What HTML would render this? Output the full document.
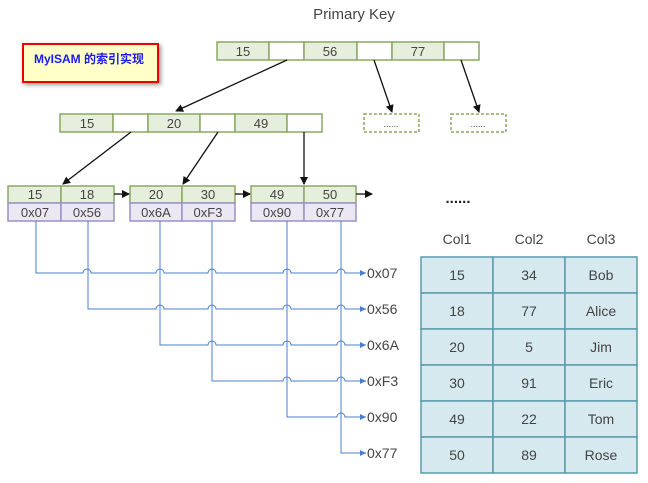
<!DOCTYPE html>
<html><head><meta charset="utf-8"><style>
body{margin:0;background:#fff;}
</style></head><body>
<svg width="648" height="478" xmlns="http://www.w3.org/2000/svg" font-family="Liberation Sans, sans-serif">
<defs>
<marker id="a" markerWidth="8" markerHeight="8" refX="7" refY="4" orient="auto" markerUnits="userSpaceOnUse"><path d="M0,0 L8,4 L0,8 z" fill="#111"/></marker>
<marker id="b" markerWidth="6" markerHeight="6" refX="6" refY="3" orient="auto" markerUnits="userSpaceOnUse"><path d="M0,0 L6,3 L0,6 z" fill="#4a7fd0"/></marker>
</defs>
<text x="354" y="19" font-size="15" fill="#444" text-anchor="middle">Primary Key</text>
<rect x="23" y="44" width="135" height="38" fill="#ffffc8" stroke="#e00" stroke-width="2" style="filter:drop-shadow(2px 2px 2px #999)"/>
<text x="34" y="63" font-size="12" font-weight="bold" fill="#1a1aee" font-family="Liberation Sans, Noto Sans CJK SC, sans-serif">MyISAM 的索引实现</text>
<g stroke="#8aa860" stroke-width="1.5">
<rect x="217" y="42" width="52" height="18" fill="#e6eedc"/><rect x="269" y="42" width="35" height="18" fill="#fff"/>
<rect x="304" y="42" width="53" height="18" fill="#e6eedc"/><rect x="357" y="42" width="35" height="18" fill="#fff"/>
<rect x="392" y="42" width="52" height="18" fill="#e6eedc"/><rect x="444" y="42" width="35" height="18" fill="#fff"/>
<rect x="60" y="114" width="53" height="18" fill="#e6eedc"/><rect x="113" y="114" width="35" height="18" fill="#fff"/>
<rect x="148" y="114" width="52" height="18" fill="#e6eedc"/><rect x="200" y="114" width="35" height="18" fill="#fff"/>
<rect x="235" y="114" width="52" height="18" fill="#e6eedc"/><rect x="287" y="114" width="35" height="18" fill="#fff"/>
<rect x="364" y="114" width="55" height="18" fill="#fff" stroke-dasharray="3,2"/>
<rect x="451" y="114" width="55" height="18" fill="#fff" stroke-dasharray="3,2"/>
<rect x="8" y="186" width="53" height="17" fill="#e6eedc"/><rect x="61" y="186" width="53" height="17" fill="#e6eedc"/>
<rect x="130" y="186" width="52" height="17" fill="#e6eedc"/><rect x="182" y="186" width="53" height="17" fill="#e6eedc"/>
<rect x="251" y="186" width="53" height="17" fill="#e6eedc"/><rect x="304" y="186" width="52" height="17" fill="#e6eedc"/>
</g>
<g stroke="#9a90c8" stroke-width="1.5" fill="#ebe8f4">
<rect x="8" y="203" width="53" height="18"/><rect x="61" y="203" width="53" height="18"/>
<rect x="130" y="203" width="52" height="18"/><rect x="182" y="203" width="53" height="18"/>
<rect x="251" y="203" width="53" height="18"/><rect x="304" y="203" width="52" height="18"/>
</g>
<g font-size="13" fill="#444" text-anchor="middle">
<text x="243" y="56">15</text><text x="330" y="56">56</text><text x="418" y="56">77</text>
<text x="87" y="128">15</text><text x="174" y="128">20</text><text x="261" y="128">49</text>
<text x="391" y="127" font-size="9">......</text><text x="478" y="127" font-size="9">......</text>
<text x="35" y="199">15</text><text x="87" y="199">18</text><text x="156" y="199">20</text><text x="208" y="199">30</text><text x="277" y="199">49</text><text x="330" y="199">50</text>
<text x="35" y="217">0x07</text><text x="87" y="217">0x56</text><text x="156" y="217">0x6A</text><text x="208" y="217">0xF3</text><text x="277" y="217">0x90</text><text x="330" y="217">0x77</text>
<text x="458" y="203" font-size="15" font-weight="bold" fill="#222">......</text>
</g>
<g stroke="#111" stroke-width="1.3" marker-end="url(#a)" fill="none">
<line x1="287" y1="60" x2="176" y2="111"/>
<line x1="374" y1="60" x2="392" y2="112"/>
<line x1="461" y1="60" x2="479" y2="112"/>
<line x1="131" y1="132" x2="63" y2="184"/>
<line x1="218" y1="132" x2="183" y2="184"/>
<line x1="304" y1="132" x2="304" y2="184"/>
<line x1="114" y1="194" x2="129" y2="194"/>
<line x1="235" y1="194" x2="250" y2="194"/>
<line x1="356" y1="194" x2="372" y2="194"/>
</g>
<g stroke="#4a7fd0" stroke-width="1" fill="none" marker-end="url(#b)">
<path d="M36,221 V273 H83 a4,4 0 0 1 8,0 H156 a4,4 0 0 1 8,0 H208 a4,4 0 0 1 8,0 H283 a4,4 0 0 1 8,0 H337 a4,4 0 0 1 8,0 H366"/>
<path d="M88,221 V309 H156 a4,4 0 0 1 8,0 H208 a4,4 0 0 1 8,0 H283 a4,4 0 0 1 8,0 H337 a4,4 0 0 1 8,0 H366"/>
<path d="M160,221 V345 H208 a4,4 0 0 1 8,0 H283 a4,4 0 0 1 8,0 H337 a4,4 0 0 1 8,0 H366"/>
<path d="M212,221 V381 H283 a4,4 0 0 1 8,0 H337 a4,4 0 0 1 8,0 H366"/>
<path d="M287,221 V417 H337 a4,4 0 0 1 8,0 H366"/>
<path d="M341,221 V453 H366"/>
</g>
<g font-size="14" fill="#444">
<text x="367" y="278">0x07</text><text x="367" y="314">0x56</text><text x="367" y="350">0x6A</text><text x="367" y="386">0xF3</text><text x="367" y="422">0x90</text><text x="367" y="458">0x77</text>
</g>
<g font-size="14" fill="#444" text-anchor="middle">
<text x="457" y="244">Col1</text><text x="529" y="244">Col2</text><text x="601" y="244">Col3</text>
</g>
<g stroke="#5a9aaa" stroke-width="1.5" fill="#d6e9ef">
<rect x="421" y="257" width="72" height="36"/><rect x="493" y="257" width="72" height="36"/><rect x="565" y="257" width="72" height="36"/>
<rect x="421" y="293" width="72" height="36"/><rect x="493" y="293" width="72" height="36"/><rect x="565" y="293" width="72" height="36"/>
<rect x="421" y="329" width="72" height="36"/><rect x="493" y="329" width="72" height="36"/><rect x="565" y="329" width="72" height="36"/>
<rect x="421" y="365" width="72" height="36"/><rect x="493" y="365" width="72" height="36"/><rect x="565" y="365" width="72" height="36"/>
<rect x="421" y="401" width="72" height="36"/><rect x="493" y="401" width="72" height="36"/><rect x="565" y="401" width="72" height="36"/>
<rect x="421" y="437" width="72" height="36"/><rect x="493" y="437" width="72" height="36"/><rect x="565" y="437" width="72" height="36"/>
</g>
<g font-size="14" fill="#444" text-anchor="middle">
<text x="457" y="280">15</text><text x="529" y="280">34</text><text x="601" y="280">Bob</text>
<text x="457" y="316">18</text><text x="529" y="316">77</text><text x="601" y="316">Alice</text>
<text x="457" y="352">20</text><text x="529" y="352">5</text><text x="601" y="352">Jim</text>
<text x="457" y="388">30</text><text x="529" y="388">91</text><text x="601" y="388">Eric</text>
<text x="457" y="424">49</text><text x="529" y="424">22</text><text x="601" y="424">Tom</text>
<text x="457" y="460">50</text><text x="529" y="460">89</text><text x="601" y="460">Rose</text>
</g>
</svg>
</body></html>
